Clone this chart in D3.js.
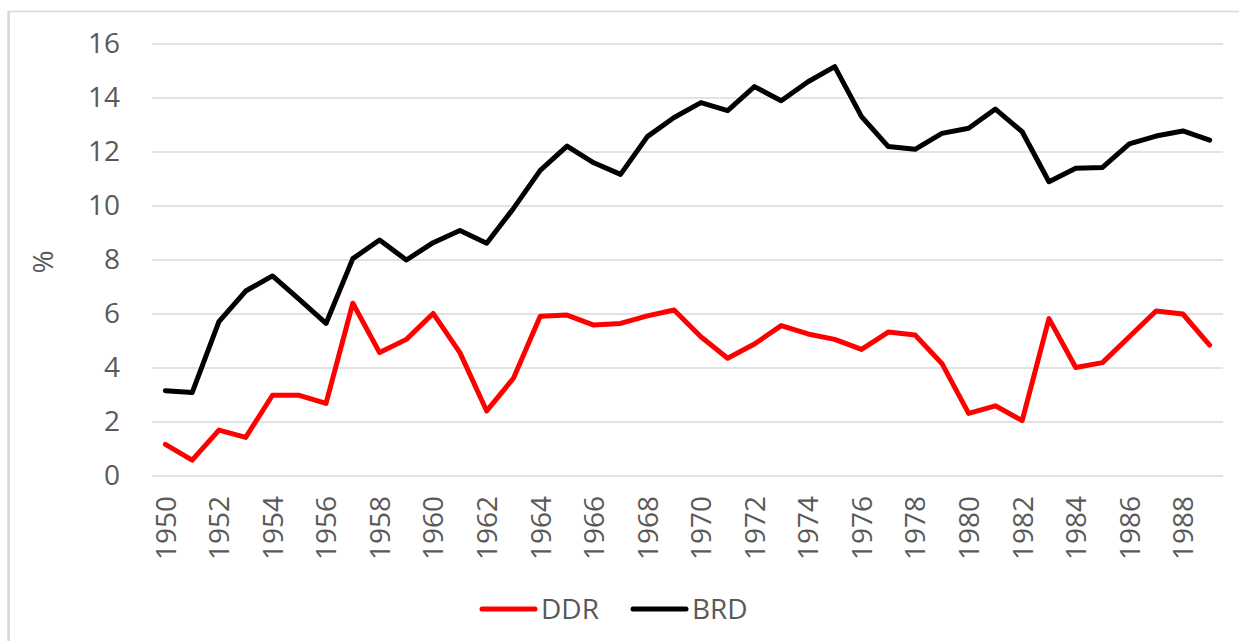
<!DOCTYPE html>
<html>
<head>
<meta charset="utf-8">
<script src="https://cdn.jsdelivr.net/npm/d3@7"></script>
<style>
  body { margin: 0; background: #fff; }
  svg text { font-family: "Open Sans", sans-serif; fill: #595959; }
</style>
</head>
<body>
<svg id="chart" width="1239" height="641"></svg>
<script>
// years 1950..1989
var years = [1950,1951,1952,1953,1954,1955,1956,1957,1958,1959,
             1960,1961,1962,1963,1964,1965,1966,1967,1968,1969,
             1970,1971,1972,1973,1974,1975,1976,1977,1978,1979,
             1980,1981,1982,1983,1984,1985,1986,1987,1988,1989];

// DDR (red)
var ddr = [1.17,0.59,1.70,1.43,2.99,2.99,2.69,6.40,4.57,5.06,
           6.02,4.57,2.41,3.62,5.92,5.96,5.59,5.65,5.93,6.15,
           5.16,4.36,4.89,5.57,5.26,5.06,4.69,5.33,5.22,4.17,
           2.32,2.60,2.05,5.83,4.02,4.20,5.16,6.11,6.00,4.85];

// BRD (black)
var brd = [3.16,3.09,5.72,6.85,7.41,6.54,5.65,8.05,8.74,8.00,
           8.64,9.09,8.62,9.91,11.32,12.22,11.60,11.17,12.57,13.28,
           13.83,13.53,14.42,13.90,14.60,15.16,13.31,12.20,12.10,12.69,
           12.88,13.59,12.75,10.90,11.40,11.43,12.30,12.59,12.78,12.44];

var yTicks = [0,2,4,6,8,10,12,14,16];
var xTicks = years.filter(function (d) { return d % 2 === 0; });

var series = [
    {name: "DDR", values: ddr, color: "#ff0000"},
    {name: "BRD", values: brd, color: "#000000"}
];

var svg = d3.select("#chart");

// outer frame of the chart area (only top and left edges are visible)
svg.append("rect")
    .attr("x", 9).attr("y", 11.5)
    .attr("width", 1400).attr("height", 800)
    .attr("fill", "none")
    .attr("stroke", "#d9d9d9")
    .attr("stroke-width", 1.5);
svg.append("line")
    .attr("x1", 8.5).attr("x2", 8.5).attr("y1", 11).attr("y2", 641)
    .attr("stroke", "#d9d9d9").attr("stroke-width", 2.5);

var x = d3.scalePoint()
    .domain(years)
    .range([152, 1223])
    .padding(0.5);

var y = d3.scaleLinear()
    .domain([0, 16])
    .range([476, 44]);

// gridlines
svg.append("g")
    .selectAll("line")
    .data(yTicks)
    .enter().append("line")
    .attr("x1", 152).attr("x2", 1223)
    .attr("y1", d => y(d)).attr("y2", d => y(d))
    .attr("stroke", "#d9d9d9")
    .attr("stroke-width", 1.5);

// y axis labels
var yAxis = svg.append("g")
    .attr("transform", "translate(120,0)")
    .call(d3.axisLeft(y).tickValues(yTicks).tickSize(0).tickPadding(0));
yAxis.select(".domain").remove();
yAxis.selectAll("text")
    .attr("font-size", 28)
    .attr("dy", "0.32em")
    .style("font-family", "'Open Sans', sans-serif")
    .attr("fill", "#595959");

// x axis labels, rotated
var xAxis = svg.append("g")
    .attr("transform", "translate(0,476)")
    .call(d3.axisBottom(x).tickValues(xTicks).tickSize(0).tickPadding(0));
xAxis.select(".domain").remove();
xAxis.selectAll("text")
    .attr("font-size", 28)
    .attr("transform", "rotate(-90)")
    .attr("text-anchor", "end")
    .attr("x", -20)
    .attr("y", 0)
    .attr("dy", "0.35em")
    .style("font-family", "'Open Sans', sans-serif")
    .attr("fill", "#595959");

// y axis title
svg.append("text")
    .attr("transform", "translate(43,262) rotate(-90)")
    .attr("text-anchor", "middle")
    .attr("dy", "0.35em")
    .attr("font-size", 28)
    .text("%");

// lines
var line = d3.line()
    .x((d, i) => x(years[i]))
    .y(d => y(d));

svg.append("g")
    .selectAll("path")
    .data(series)
    .enter().append("path")
    .attr("d", d => line(d.values))
    .attr("fill", "none")
    .attr("stroke", d => d.color)
    .attr("stroke-width", 5)
    .attr("stroke-linejoin", "round")
    .attr("stroke-linecap", "round");

// legend
var legendX = [482, 633];
var legend = svg.append("g")
    .selectAll("g")
    .data(series)
    .enter().append("g")
    .attr("transform", (d, i) => "translate(" + legendX[i] + ",609)");
legend.append("line")
    .attr("x1", 0).attr("x2", 53)
    .attr("stroke", d => d.color)
    .attr("stroke-width", 5)
    .attr("stroke-linecap", "round");
legend.append("text")
    .attr("x", 59)
    .attr("dy", "0.35em")
    .attr("font-size", 28)
    .text(d => d.name);
</script>
</body>
</html>
